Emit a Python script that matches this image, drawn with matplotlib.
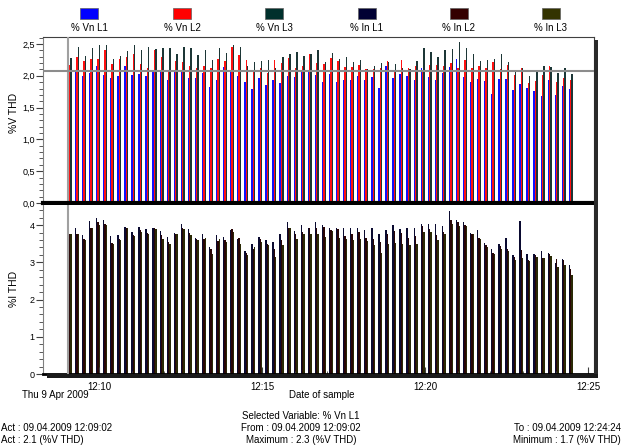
import matplotlib
matplotlib.use('Agg')
import matplotlib.pyplot as plt
import matplotlib.dates as mdates
from matplotlib.patches import Rectangle
from matplotlib.ticker import MultipleLocator, FuncFormatter
import numpy as np
import pandas as pd

plt.rcParams['font.family'] = ['Liberation Sans', 'DejaVu Sans']

# sample times (one every ~13 s)
times = pd.date_range('2009-04-09 12:09:02', '2009-04-09 12:24:24', periods=72)

# voltage THD per phase (%V THD)
vn_l1 = [2.07, 2.06, 1.99, 2.05, 2.15, 2.02, 1.97, 1.99, 2.16, 2.01,
         2.03, 2.00, 2.08, 2.08, 1.93, 2.08, 2.08, 1.96, 1.96, 2.05,
         1.82, 1.94, 2.14, 2.08, 1.99, 1.90, 1.79, 1.97, 1.86, 1.93,
         1.89, 1.99, 1.98, 2.07, 2.09, 2.02, 1.90, 2.03, 1.91, 1.94,
         1.93, 1.99, 1.94, 1.98, 1.81, 2.15, 1.97, 2.03, 1.99, 1.94,
         2.12, 1.98, 1.93, 2.04, 2.14, 2.27, 1.98, 1.90, 1.95, 1.92,
         1.71, 1.95, 1.95, 1.78, 1.87, 1.81, 1.76, 1.68, 1.93, 1.70,
         1.84, 1.79]
vn_l2 = [2.17, 2.30, 2.23, 2.26, 2.27, 2.40, 2.19, 2.27, 2.29, 2.35,
         2.19, 2.12, 2.40, 2.29, 2.08, 2.23, 2.21, 2.16, 2.12, 2.15,
         2.13, 2.27, 2.23, 2.46, 2.33, 2.25, 2.08, 2.13, 2.04, 2.25,
         2.20, 2.28, 2.12, 2.16, 2.34, 2.20, 2.19, 2.28, 2.24, 2.14,
         2.14, 2.17, 2.11, 2.11, 2.12, 2.23, 2.07, 2.25, 2.13, 2.15,
         2.07, 2.17, 2.17, 2.16, 2.20, 2.13, 2.25, 2.12, 2.15, 2.13,
         2.21, 2.10, 2.17, 2.01, 2.13, 1.88, 1.92, 2.02, 2.16, 1.91,
         1.96, 1.93]
vn_l3 = [2.28, 2.45, 2.31, 2.43, 2.48, 2.48, 2.26, 2.31, 2.39, 2.48,
         2.41, 2.45, 2.42, 2.43, 2.44, 2.35, 2.46, 2.44, 2.33, 2.40,
         2.25, 2.44, 2.36, 2.48, 2.45, 2.15, 2.22, 2.23, 2.25, 2.12,
         2.29, 2.35, 2.37, 2.31, 2.34, 2.41, 2.22, 2.36, 2.26, 2.30,
         2.22, 2.25, 2.11, 2.16, 2.20, 2.21, 2.19, 2.12, 2.10, 2.23,
         2.43, 2.37, 2.30, 2.40, 2.42, 2.53, 2.43, 2.35, 2.24, 2.25,
         2.26, 2.35, 2.21, 2.09, 2.13, 1.99, 2.06, 2.15, 2.14, 2.05,
         2.12, 2.03]

# current THD per phase (%I THD)
in_l1 = [3.84, 3.93, 3.73, 4.10, 4.18, 4.13, 3.70, 3.73, 3.94, 3.82,
         3.94, 3.89, 3.93, 3.84, 3.68, 3.79, 4.04, 3.89, 3.66, 3.75,
         3.41, 3.73, 3.68, 3.86, 3.64, 3.30, 3.48, 3.68, 3.61, 3.55,
         3.75, 4.07, 3.84, 4.00, 3.93, 4.07, 4.01, 3.93, 3.91, 3.91,
         3.91, 3.91, 3.86, 3.93, 3.75, 3.86, 4.00, 3.89, 3.91, 3.93,
         4.02, 4.02, 4.02, 3.97, 4.37, 4.13, 4.07, 3.80, 3.86, 3.53,
         3.37, 3.50, 3.66, 3.19, 4.10, 3.23, 3.23, 3.30, 3.26, 2.98,
         3.10, 2.94]
in_l2 = [3.75, 3.77, 3.64, 3.93, 4.09, 4.02, 3.53, 3.64, 3.93, 3.73,
         3.88, 3.80, 3.93, 3.73, 3.55, 3.77, 3.93, 3.80, 3.62, 3.64,
         3.35, 3.57, 3.59, 3.89, 3.66, 3.26, 3.37, 3.64, 3.48, 3.37,
         3.59, 3.93, 3.77, 3.82, 3.91, 3.93, 3.95, 3.88, 3.89, 3.70,
         3.77, 3.82, 3.66, 3.64, 3.55, 3.75, 3.84, 3.80, 3.66, 3.70,
         3.97, 3.90, 3.73, 3.82, 4.13, 4.07, 4.01, 3.77, 3.66, 3.46,
         3.25, 3.44, 3.37, 3.14, 3.32, 3.05, 3.19, 3.12, 3.23, 3.10,
         3.05, 2.83]
in_l3 = [3.75, 3.75, 3.59, 3.91, 4.00, 4.00, 3.50, 3.59, 3.91, 3.70,
         3.82, 3.77, 3.89, 3.64, 3.50, 3.75, 3.89, 3.73, 3.59, 3.66,
         3.23, 3.64, 3.55, 3.82, 3.50, 3.21, 3.41, 3.55, 3.46, 3.14,
         3.46, 3.93, 3.64, 3.75, 3.75, 3.75, 3.68, 3.84, 3.66, 3.64,
         3.61, 3.64, 3.57, 3.46, 3.26, 3.50, 3.52, 3.48, 3.46, 3.48,
         3.82, 3.82, 3.61, 3.77, 4.04, 3.98, 3.98, 3.75, 3.64, 3.41,
         3.23, 3.37, 3.30, 3.05, 3.12, 3.03, 3.14, 3.12, 3.17, 2.87,
         2.92, 2.65]

labels = ['% Vn L1', '% Vn L2', '% Vn L3', '% In L1', '% In L2', '% In L3']
legend_colors = ['#0000ff', '#ff0000', '#00302c', '#000033', '#330000', '#333300']
bar_colors = ['#1010ff', '#ff1010', '#1c3636', '#0a0a30', '#2a0505', '#2a2a05']

W, H = 623, 448


def fx(px):
    return px / W


def fy(py):
    return 1 - py / H


fig = plt.figure(figsize=(6.23, 4.48), dpi=100)
fig.patch.set_facecolor('white')

ax1 = fig.add_axes([fx(43), fy(203), fx(594) - fx(43), fy(37) - fy(203)])
ax2 = fig.add_axes([fx(43), fy(374), fx(594) - fx(43), fy(205) - fy(374)])

sec = 1 / 86400
bw = 2.5 * sec
x = mdates.date2num(times)

for k, vals in enumerate([vn_l1, vn_l2, vn_l3]):
    ax1.bar(x + k * bw, vals, width=bw, align='edge', color=bar_colors[k], linewidth=0)
for k, vals in enumerate([in_l1, in_l2, in_l3]):
    ax2.bar(x + k * bw, vals, width=bw, align='edge', color=bar_colors[k + 3], linewidth=0)

x0 = mdates.date2num(pd.Timestamp('2009-04-09 12:08:16.4'))
x1 = mdates.date2num(pd.Timestamp('2009-04-09 12:25:10.5'))
for ax in (ax1, ax2):
    ax.set_xlim(x0, x1)
    # cursor line at the selected sample
    ax.axvline(x[0] + 0.5 * sec, color='#a0a0a0', lw=1.5, zorder=3)

ax1.set_ylim(0, 2.61)
ax2.set_ylim(0, 4.54)
ax1.axhline(vn_l1[0], color='#8c8c8c', lw=1.5, zorder=3)
ax1.axhline(0, color='black', lw=3, clip_on=False, zorder=4)

# y axes
ax1.yaxis.set_major_locator(MultipleLocator(0.5))
ax1.yaxis.set_minor_locator(MultipleLocator(0.1))
ax1.yaxis.set_major_formatter(FuncFormatter(lambda v, p: f'{v:.1f}'.replace('.', ',')))
ax2.yaxis.set_major_locator(MultipleLocator(1))
ax2.yaxis.set_minor_locator(MultipleLocator(0.2))
for ax in (ax1, ax2):
    ax.tick_params(axis='y', which='major', direction='out', length=5, width=0.8,
                   color='#404040', labelsize=6.5, pad=1)
    ax.tick_params(axis='y', which='minor', direction='out', length=3, width=0.6,
                   color='#404040')
    ax.spines['left'].set_color('#808080')
    ax.spines['right'].set_color('#404040')
    ax.spines['top'].set_color('#404040')

ax1.tick_params(axis='x', which='both', bottom=False, labelbottom=False)
ax1.spines['bottom'].set_visible(False)
ax2.spines['top'].set_visible(False)
ax2.spines['bottom'].set_color('black')
ax2.spines['bottom'].set_linewidth(2)

# x axis (time)
ax2.xaxis.set_major_locator(mdates.MinuteLocator(byminute=range(0, 60, 5)))
ax2.xaxis.set_minor_locator(mdates.MinuteLocator())
ax2.xaxis.set_major_formatter(mdates.DateFormatter('%H:%M'))
ax2.tick_params(axis='x', which='major', direction='in', length=5, width=0.8,
                color='#404040', labelsize=7, pad=6)
ax2.tick_params(axis='x', which='minor', direction='in', length=2, width=0.6,
                color='#404040')

# drop shadow of the frame
fig.add_artist(Rectangle((fx(594), fy(378)), fx(598) - fx(594), fy(40) - fy(378),
                         transform=fig.transFigure, color='#2a2a2a', lw=0))
fig.add_artist(Rectangle((fx(47), fy(378)), fx(598) - fx(47), fy(374) - fy(378),
                         transform=fig.transFigure, color='#1a1a1a', lw=0))

# axis titles
fig.text(fx(14), fy(113), '%V THD', rotation=90, ha='center', va='center', fontsize=7.5)
fig.text(fx(14), fy(289), '%I THD', rotation=90, ha='center', va='center', fontsize=7.5)

# legend
legend_x = [89, 182, 274, 367, 459, 551]
for lx, lab, col in zip(legend_x, labels, legend_colors):
    fig.add_artist(Rectangle((fx(lx - 9), fy(19)), 18 / W, 11 / H,
                             transform=fig.transFigure, facecolor=col,
                             edgecolor='#606060', lw=0.5))
    fig.text(fx(lx), fy(28), lab, ha='center', va='center', fontsize=7)

# footer text
fig.text(fx(22), fy(395), 'Thu 9 Apr 2009', ha='left', va='center', fontsize=7)
fig.text(fx(322), fy(395), 'Date of sample', ha='center', va='center', fontsize=7)
fig.text(fx(301), fy(416), 'Selected Variable: % Vn L1', ha='center', va='center', fontsize=7)
fig.text(fx(301), fy(428), 'From : 09.04.2009 12:09:02', ha='center', va='center', fontsize=7)
fig.text(fx(301), fy(440), 'Maximum : 2.3 (%V THD)', ha='center', va='center', fontsize=7)
fig.text(fx(1), fy(428), 'Act : 09.04.2009 12:09:02', ha='left', va='center', fontsize=7)
fig.text(fx(1), fy(440), 'Act : 2.1 (%V THD)', ha='left', va='center', fontsize=7)
fig.text(fx(621), fy(428), 'To : 09.04.2009 12:24:24', ha='right', va='center', fontsize=7)
fig.text(fx(621), fy(440), 'Minimum : 1.7 (%V THD)', ha='right', va='center', fontsize=7)

fig.savefig('out.png', dpi=100)
